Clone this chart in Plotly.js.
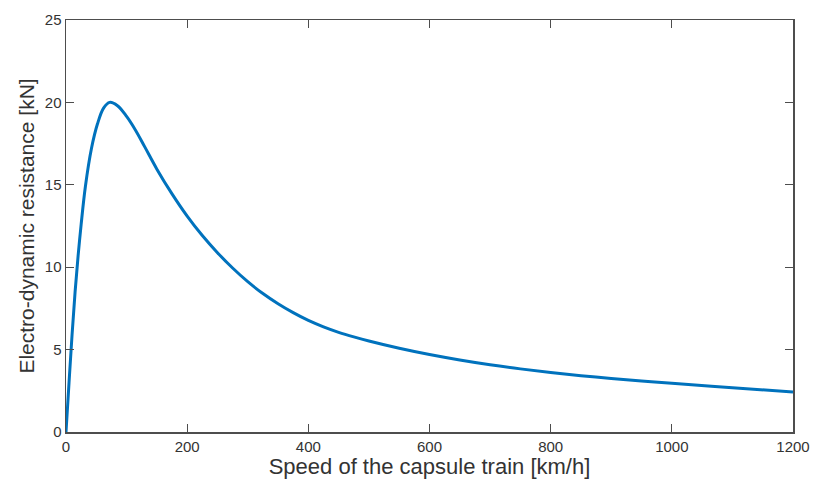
<!DOCTYPE html>
<html>
<head>
<meta charset="utf-8">
<script src="https://cdn.plot.ly/plotly-3.0.1.min.js"></script>
<style>
  body { margin: 0; background: #fff; }
  #chart { width: 830px; height: 485px; }
</style>
</head>
<body>
<div id="chart"></div>
<script>
// Values (km/h, kN)
const speed = [0, 5, 10, 15, 20, 25, 32, 42, 52, 62, 72, 85, 100, 115, 130, 150, 175, 200,
    225, 250, 275, 300, 325, 350, 375, 400, 425, 450, 475, 500, 550, 600, 650, 700, 750, 800,
    850, 900, 950, 1000, 1100, 1200];
const resistance = [0, 3.0, 5.9, 8.5, 10.7, 12.6, 14.9, 17.2, 18.7, 19.65, 20.0, 19.8, 19.15, 18.3, 17.3, 15.95, 14.45, 13.1,
    11.92, 10.88, 9.95, 9.12, 8.4, 7.78, 7.24, 6.77, 6.38, 6.05, 5.77, 5.52, 5.08, 4.7, 4.37, 4.08, 3.83, 3.61,
    3.42, 3.25, 3.1, 2.96, 2.69, 2.43];

const xTicks = [0, 200, 400, 600, 800, 1000, 1200];
const yTicks = [0, 5, 10, 15, 20, 25];

const data = [{
    x: speed,
    y: resistance,
    type: 'scatter',
    mode: 'lines',
    line: { color: '#0072BD', width: 3, shape: 'spline', smoothing: 1 },
    hoverinfo: 'skip',
}];

const fontFamily = 'Liberation Sans, Arial, sans-serif';

const axisStyle = {
    showgrid: false,
    zeroline: false,
    showline: true,
    mirror: 'allticks',
    linecolor: '#4d4d4d',
    linewidth: 1.5,
    ticks: 'inside',
    ticklen: 8,
    tickwidth: 1.3,
    tickcolor: '#4d4d4d',
    tickfont: { family: fontFamily, size: 15, color: '#333' },
};

const layout = {
    width: 830,
    height: 485,
    margin: { l: 66, r: 37, t: 20, b: 53 },
    paper_bgcolor: '#fff',
    plot_bgcolor: '#fff',
    showlegend: false,
    xaxis: Object.assign({}, axisStyle, {
        range: [0, 1200],
        tickvals: xTicks,
        title: {
            text: 'Speed of the capsule train [km/h]',
            font: { family: fontFamily, size: 22, color: '#333' },
            standoff: 2,
        },
    }),
    yaxis: Object.assign({}, axisStyle, {
        range: [0, 25],
        tickvals: yTicks,
        title: {
            text: 'Electro-dynamic resistance [kN]',
            font: { family: fontFamily, size: 21, color: '#333' },
            standoff: 4,
        },
    }),
};

Plotly.newPlot('chart', data, layout, { staticPlot: true, displayModeBar: false });
</script>
</body>
</html>
